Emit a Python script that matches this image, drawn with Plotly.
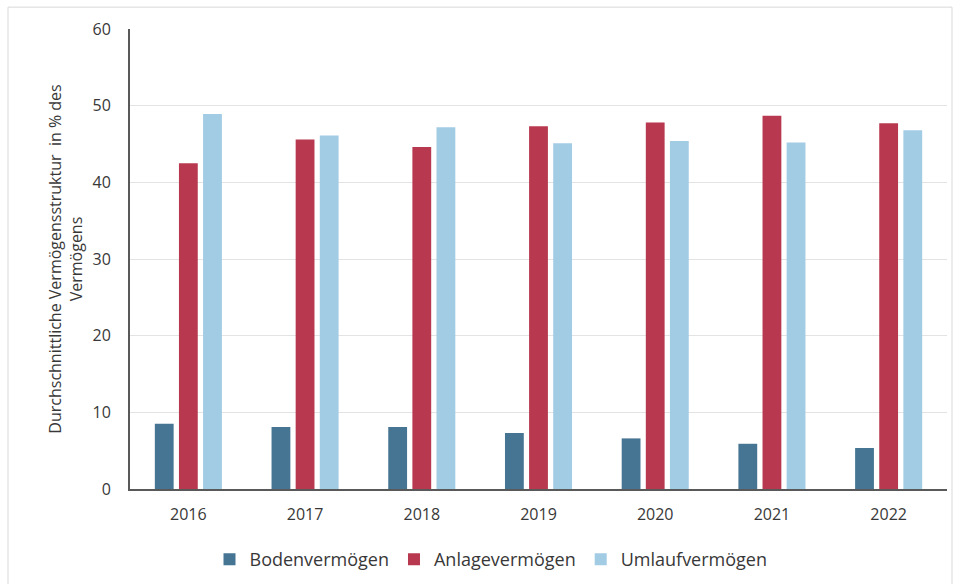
import plotly.graph_objects as go

years = ["2016", "2017", "2018", "2019", "2020", "2021", "2022"]
boden = [8.5, 8.1, 8.1, 7.3, 6.6, 5.9, 5.35]
anlage = [42.5, 45.6, 44.6, 47.3, 47.8, 48.7, 47.7]
umlauf = [48.9, 46.1, 47.2, 45.1, 45.4, 45.2, 46.8]
y_ticks = [0, 10, 20, 30, 40, 50, 60]

series = [
    ("Bodenvermögen", boden, "#457592"),
    ("Anlagevermögen", anlage, "#B8384F"),
    ("Umlaufvermögen", umlauf, "#A2CBE4"),
]

fig = go.Figure()
for name, vals, col in series:
    fig.add_trace(go.Bar(x=years, y=vals, name=name, marker=dict(color=col, line=dict(width=0))))

L, R, T, B = 130, 6, 29, 92
W, H = 953, 584
pw, ph = W - L - R, H - T - B

fig.update_layout(
    width=W, height=H,
    margin=dict(l=L, r=R, t=T, b=B),
    paper_bgcolor="white", plot_bgcolor="white",
    barmode="group", bargap=0.38, bargroupgap=0.22,
    font=dict(family="Open Sans, sans-serif", color="#383838", size=16),
    legend=dict(orientation="h", x=(491 - L) / pw, xanchor="center",
                y=(H - B - 563) / ph, yanchor="middle", bgcolor="rgba(0,0,0,0)",
                font=dict(size=18), itemwidth=30, traceorder="normal"),
    showlegend=True,
    shapes=[dict(type="rect", xref="paper", yref="paper",
                 x0=(8 - L) / pw, x1=(952 - L) / pw,
                 y0=(H - B - 600) / ph, y1=(H - B - 7) / ph,
                 line=dict(color="#d9d9d9", width=1), fillcolor="rgba(0,0,0,0)", layer="below")],
)
fig.update_xaxes(showline=True, linecolor="#595959", linewidth=2, ticks="",
                 tickfont=dict(size=16), ticklabelstandoff=10)
fig.update_yaxes(range=[0, 60], tickvals=y_ticks, showline=True, linecolor="#595959", linewidth=2,
                 gridcolor="#e3e3e3", gridwidth=1, ticks="", zeroline=False,
                 tickfont=dict(size=16), ticklabelstandoff=14,
                 title=dict(text="Durchschnittliche Vermögensstruktur  in % des<br>Vermögens",
                            font=dict(size=16), standoff=6))

fig.write_html("out.html")
